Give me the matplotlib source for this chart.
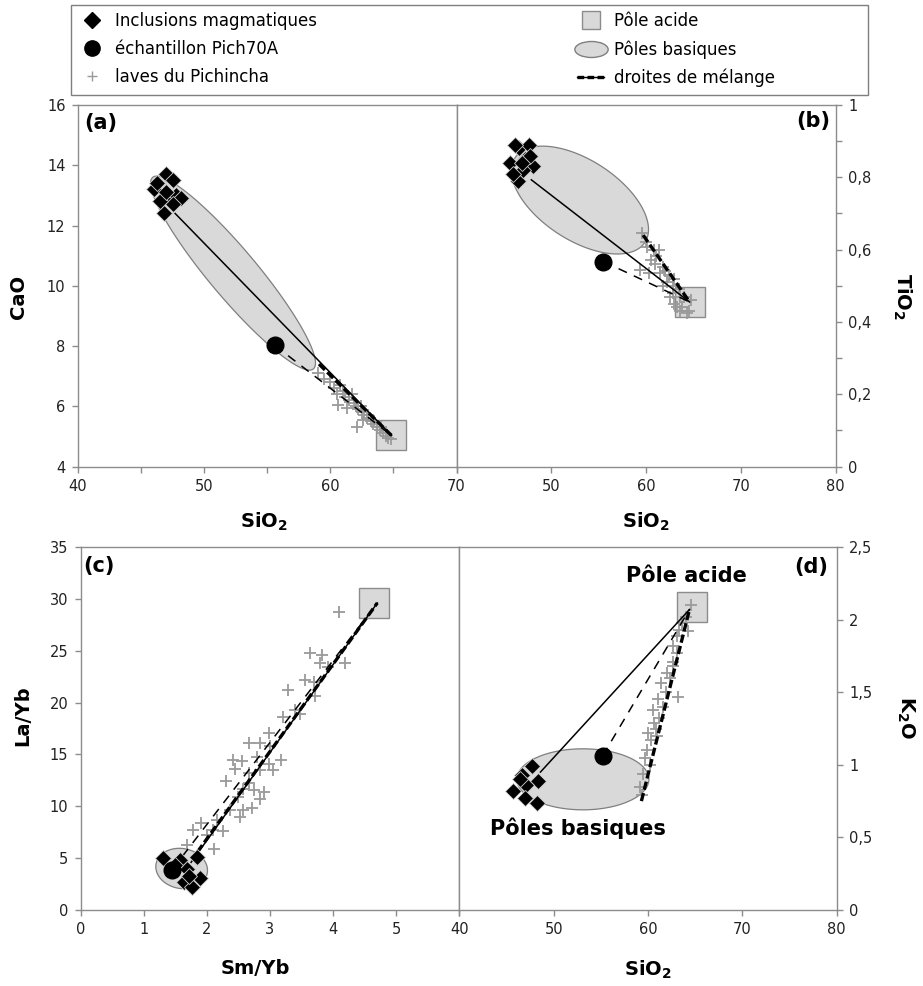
import numpy as np
import matplotlib
matplotlib.use('Agg')
import matplotlib.pyplot as plt
from matplotlib.lines import Line2D
from matplotlib.patches import Polygon, Rectangle
from matplotlib.path import Path
from matplotlib.transforms import Affine2D
from matplotlib.legend_handler import HandlerTuple
from matplotlib.ticker import FuncFormatter, MultipleLocator

plt.rcParams['font.family'] = 'DejaVu Sans'

# ---- (a) CaO vs SiO2
incl_sio2_a = [46.0, 47.0, 47.5, 47.2, 47.8, 48.2, 46.8, 47.5, 46.5, 47.0, 46.3]
incl_cao_a = [13.2, 13.7, 13.5, 12.9, 13.0, 12.9, 12.4, 12.7, 12.8, 13.1, 13.4]
laves_sio2_a = [59.0, 59.5, 60.0, 60.3, 60.5, 60.8, 61.0, 61.2, 61.5, 61.7, 61.9, 62.0,
                62.2, 62.4, 62.5, 62.7, 62.9, 63.0, 63.2, 63.4, 63.5, 63.7, 63.9, 64.0,
                64.2, 64.4, 64.6, 64.8, 62.1, 61.3, 60.6, 62.6]
laves_cao_a = [7.1, 6.9, 6.8, 6.6, 6.4, 6.7, 6.5, 6.3, 6.2, 6.4, 6.1, 6.0,
               5.9, 6.0, 5.8, 5.7, 5.6, 5.7, 5.5, 5.4, 5.5, 5.3, 5.2, 5.3,
               5.1, 5.0, 4.95, 4.9, 5.3, 5.95, 6.05, 5.55]
pich_a = (55.6, 8.02)
acide_a = (64.8, 5.05)
mix_end_a = (64.85, 5.03)
mix_start_a = {'solid': (47.7, 12.4), 'dash': (55.6, 8.02), 'thick': (59.1, 7.4)}

# ---- (b) TiO2 vs SiO2
incl_sio2_b = [46.5, 45.6, 46.6, 47.6, 48.1, 47.2, 46.2, 47.0, 47.8, 46.0, 46.9]
incl_tio2_b = [0.79, 0.84, 0.88, 0.89, 0.83, 0.85, 0.89, 0.82, 0.86, 0.81, 0.84]
laves_sio2_b = [59.56, 60.1, 60.8, 61.1, 59.4, 60.3, 61.5, 62.2, 62.9, 63.6, 63.3, 63.6,
                64.3, 62.5, 61.8, 61.0, 61.4, 62.0, 62.4, 63.0, 63.5, 64.0, 64.8, 63.0,
                63.8, 62.8, 60.5, 61.8, 64.5, 60.0]
laves_tio2_b = [0.645, 0.608, 0.599, 0.581, 0.544, 0.535, 0.535, 0.511, 0.498, 0.470, 0.442, 0.429,
                0.424, 0.470, 0.553, 0.560, 0.600, 0.540, 0.530, 0.520, 0.490, 0.470, 0.460, 0.450,
                0.440, 0.480, 0.570, 0.500, 0.430, 0.620]
pich_b = (55.5, 0.567)
acide_b = (64.6, 0.455)
mix_end_b = (64.6, 0.455)
mix_start_b = {'solid': (47.9, 0.793), 'dash': (55.5, 0.567), 'thick': (59.7, 0.64)}

# ---- (c) La/Yb vs Sm/Yb
incl_smyb_c = [1.31, 1.57, 1.68, 1.63, 1.76, 1.89, 1.84, 1.50, 1.72]
incl_layb_c = [4.98, 4.82, 4.00, 2.72, 2.25, 3.05, 5.13, 4.30, 3.30]
laves_smyb_c = [4.10, 3.63, 3.83, 4.19, 3.79, 3.92, 3.56, 3.69, 3.71, 3.29, 3.47, 3.20,
                2.99, 2.67, 2.84, 2.42, 2.55, 3.18, 2.99, 3.05, 2.84, 2.66, 2.45, 2.31,
                2.66, 2.74, 2.90, 2.58, 2.50, 2.37, 2.58, 2.71, 2.84, 2.53, 2.16, 2.10,
                2.25, 1.78, 2.00, 1.68, 2.12, 1.90, 3.00, 2.80, 3.40]
laves_layb_c = [28.7, 24.8, 24.6, 23.8, 23.8, 23.4, 22.2, 22.0, 20.6, 21.2, 18.9, 18.6,
                17.1, 16.1, 16.1, 14.5, 14.4, 14.5, 14.1, 13.5, 13.5, 13.2, 13.6, 12.4,
                12.2, 11.6, 11.4, 11.7, 10.9, 9.6, 9.6, 9.8, 10.7, 9.0, 8.7, 7.7,
                7.6, 7.7, 7.2, 6.3, 5.9, 8.4, 15.8, 14.8, 19.3]
pich_c = (1.45, 3.9)
acide_c = (4.65, 29.6)
mix_end_c = (4.7, 29.6)
mix_start_c = {'solid': (1.75, 4.6), 'dash': (1.45, 3.9), 'thick': (1.85, 5.6)}

# ---- (d) K2O vs SiO2
incl_sio2_d = [47.7, 46.6, 48.3, 47.1, 45.7, 47.0, 48.2, 46.4]
incl_k2o_d = [0.99, 0.93, 0.89, 0.86, 0.82, 0.77, 0.74, 0.90]
laves_sio2_d = [59.4, 59.5, 59.7, 60.0, 60.6, 60.5, 61.2, 61.1, 61.4, 61.9, 62.0, 62.7,
                63.1, 62.6, 63.1, 63.2, 63.3, 64.2, 64.6, 62.6, 59.9, 60.3, 60.8, 61.6,
                62.3, 63.6, 64.0, 59.2, 60.2, 61.0]
laves_k2o_d = [0.79, 0.94, 1.05, 1.22, 1.29, 1.38, 1.32, 1.45, 1.56, 1.50, 1.63, 1.68,
               1.77, 1.82, 1.89, 1.47, 1.93, 1.92, 2.10, 1.71, 1.10, 1.17, 1.25, 1.40,
               1.60, 1.98, 2.02, 0.85, 1.00, 1.20]
pich_d = (55.2, 1.063)
acide_d = (64.7, 2.09)
mix_end_d = (64.4, 2.07)
mix_start_d = {'solid': (48.6, 0.95), 'dash': (55.2, 1.063), 'thick': (59.3, 0.75)}

# basic pole ellipses: centre (data), width px, height px, angle deg
ell_a = (52.29, 10.42, 250, 48, -50)
ell_b = (53.03, 0.737, 155, 80, -33)
ell_c = (1.6, 4.0, 52, 40, -10)
ell_d = (53.1, 0.90, 132, 61, 0)

GRAY = '#8c8c8c'
FILL = '#d9d9d9'

fig = plt.figure(figsize=(9.23, 9.86), dpi=100)
W, H = 923., 986.


def add_ax(l, r, t, b):
    return fig.add_axes([l / W, 1 - b / H, (r - l) / W, (b - t) / H])


ax_a = add_ax(78, 456.5, 105, 466.5)
ax_b = add_ax(456.5, 835.5, 105, 466.5)
ax_c = add_ax(80.7, 459.3, 547, 910)
ax_d = add_ax(459.3, 836.7, 547, 910)

comma = FuncFormatter(lambda v, p: ('%g' % round(v, 3)).replace('.', ','))


def style(ax, right=False):
    for s in ax.spines.values():
        s.set_color(GRAY)
        s.set_linewidth(1.0)
    ax.tick_params(which='both', direction='out', color=GRAY, width=1,
                   labelsize=10.5, labelcolor='#222222', length=4, pad=5)
    if right:
        ax.yaxis.tick_right()
    ax.yaxis.set_major_formatter(comma)
    ax.xaxis.set_major_formatter(comma)


def ellipse(ax, e):
    cx, cy, w, h, ang = e
    c = ax.transData.transform((cx, cy))
    t = np.linspace(0, 2 * np.pi, 240)
    a = np.deg2rad(ang)
    x = w / 2 * np.cos(t)
    y = h / 2 * np.sin(t)
    px = c[0] + x * np.cos(a) - y * np.sin(a)
    py = c[1] + x * np.sin(a) + y * np.cos(a)
    pts = ax.transData.inverted().transform(np.column_stack([px, py]))
    ax.add_patch(Polygon(pts, closed=True, fc=FILL, ec='#7f7f7f', lw=0.9, zorder=1))


def draw(ax, incl_x, incl_y, lav_x, lav_y, pich, acide, mix_end, starts, ell):
    ellipse(ax, ell)
    ax.plot(*acide, marker='s', ms=21, mfc=FILL, mec='#8c8c8c', mew=1, zorder=2)
    ax.plot(lav_x, lav_y, ls='none', marker='+', ms=8, mew=1.3, color='#9a9a9a', zorder=3)
    s = starts['solid']
    ax.plot([s[0], mix_end[0]], [s[1], mix_end[1]], color='k', lw=1.1, zorder=4)
    s = starts['dash']
    ax.plot([s[0], mix_end[0]], [s[1], mix_end[1]], color='k', lw=1.1, ls=(0, (6, 5)), zorder=4)
    s = starts['thick']
    ax.plot([s[0], mix_end[0]], [s[1], mix_end[1]], color='k', lw=2.4, ls=(0, (2.5, 1)), zorder=4)
    ax.plot(incl_x, incl_y, ls='none', marker='D', ms=8.5, mfc='k', mec='#d0d0d0', mew=0.6, zorder=5)
    ax.plot(*pich, marker='o', ms=12, color='k', zorder=6)


# (a)
ax_a.set_xlim(40, 70)
ax_a.set_ylim(4, 16)
ax_a.xaxis.set_major_locator(MultipleLocator(10))
ax_a.xaxis.set_minor_locator(MultipleLocator(5))
ax_a.yaxis.set_major_locator(MultipleLocator(2))
style(ax_a)
draw(ax_a, incl_sio2_a, incl_cao_a, laves_sio2_a, laves_cao_a, pich_a, acide_a, mix_end_a, mix_start_a, ell_a)

# (b)
ax_b.set_xlim(40, 80)
ax_b.set_ylim(0, 1)
ax_b.xaxis.set_major_locator(MultipleLocator(10))
ax_b.yaxis.set_major_locator(MultipleLocator(0.2))
ax_b.yaxis.set_minor_locator(MultipleLocator(0.1))
style(ax_b, right=True)
ax_b.xaxis.set_major_formatter(FuncFormatter(lambda v, p: '' if v <= 40 else '%g' % v))
draw(ax_b, incl_sio2_b, incl_tio2_b, laves_sio2_b, laves_tio2_b, pich_b, acide_b, mix_end_b, mix_start_b, ell_b)

# (c)
ax_c.set_xlim(0, 6)
ax_c.set_ylim(0, 35)
ax_c.xaxis.set_major_locator(MultipleLocator(1))
ax_c.yaxis.set_major_locator(MultipleLocator(5))
style(ax_c)
ax_c.xaxis.set_major_formatter(FuncFormatter(lambda v, p: '' if v >= 6 else '%g' % v))
draw(ax_c, incl_smyb_c, incl_layb_c, laves_smyb_c, laves_layb_c, pich_c, acide_c, mix_end_c, mix_start_c, ell_c)

# (d)
ax_d.set_xlim(40, 80)
ax_d.set_ylim(0, 2.5)
ax_d.xaxis.set_major_locator(MultipleLocator(10))
ax_d.yaxis.set_major_locator(MultipleLocator(0.5))
style(ax_d, right=True)
draw(ax_d, incl_sio2_d, incl_k2o_d, laves_sio2_d, laves_k2o_d, pich_d, acide_d, mix_end_d, mix_start_d, ell_d)
ax_d.text(64.1, 2.30, 'Pôle acide', fontsize=15, fontweight='bold', ha='center', va='center')
ax_d.text(52.6, 0.56, 'Pôles basiques', fontsize=15, fontweight='bold', ha='center', va='center')

# panel letters
ax_a.text(0.016, 0.95, '(a)', transform=ax_a.transAxes, fontsize=15, fontweight='bold', va='center')
ax_b.text(0.985, 0.955, '(b)', transform=ax_b.transAxes, fontsize=15, fontweight='bold', va='center', ha='right')
ax_c.text(0.008, 0.948, '(c)', transform=ax_c.transAxes, fontsize=15, fontweight='bold', va='center')
ax_d.text(0.978, 0.945, '(d)', transform=ax_d.transAxes, fontsize=15, fontweight='bold', va='center', ha='right')

# axis titles
lab = dict(fontsize=14, fontweight='bold')
ax_a.set_ylabel('CaO', **lab)
ax_a.yaxis.set_label_coords(-0.132, 0.47)
ax_a.set_xlabel(r'SiO$_{\mathbf{2}}$', **lab)
ax_a.xaxis.set_label_coords(0.49, -0.122)
ax_b.set_xlabel(r'SiO$_{\mathbf{2}}$', **lab)
ax_b.xaxis.set_label_coords(0.5, -0.122)
ax_b.yaxis.set_label_position('right')
ax_b.set_ylabel(r'TiO$_{\mathbf{2}}$', rotation=270, **lab)
ax_b.yaxis.set_label_coords(1.205, 0.47)
ax_c.set_ylabel('La/Yb', **lab)
ax_c.yaxis.set_label_coords(-0.129, 0.535)
ax_c.set_xlabel('Sm/Yb', **lab)
ax_c.xaxis.set_label_coords(0.46, -0.135)
ax_d.set_xlabel(r'SiO$_{\mathbf{2}}$', **lab)
ax_d.xaxis.set_label_coords(0.5, -0.135)
ax_d.yaxis.set_label_position('right')
ax_d.set_ylabel(r'K$_{\mathbf{2}}$O', rotation=270, **lab)
ax_d.yaxis.set_label_coords(1.21, 0.53)

# legend
fig.add_artist(Rectangle((71 / W, 1 - 95 / H), 797 / W, 90 / H, transform=fig.transFigure,
                         fc='white', ec='#7f7f7f', lw=1))
ell_marker = Path.unit_circle().transformed(Affine2D().scale(1, 0.48))
handles = [
    Line2D([], [], ls='none', marker='D', ms=8, mfc='k', mec='k'),
    Line2D([], [], ls='none', marker='o', ms=11, mfc='k', mec='k'),
    Line2D([], [], ls='none', marker='+', ms=7, mew=1, color='#9a9a9a'),
    Line2D([], [], ls='none', marker='s', ms=13, mfc=FILL, mec='#8c8c8c'),
    Line2D([], [], ls='none', marker=ell_marker, ms=24, mfc=FILL, mec='#7f7f7f'),
    (Line2D([], [], color='k', lw=2.4, ls=(0, (2, 1))), Line2D([], [], color='k', lw=1)),
]
labels = ['Inclusions magmatiques', 'échantillon Pich70A', 'laves du Pichincha',
          'Pôle acide', 'Pôles basiques', 'droites de mélange']
fig.legend(handles, labels, loc='upper left', bbox_to_anchor=(67 / W, 1 - 0.5 / H), ncol=2,
           frameon=False, fontsize=12, handlelength=1.6, handletextpad=0.6,
           columnspacing=15.6, labelspacing=0.6, borderpad=0.2,
           handler_map={tuple: HandlerTuple(ndivide=1)})

fig.savefig('out.png', dpi=100)
